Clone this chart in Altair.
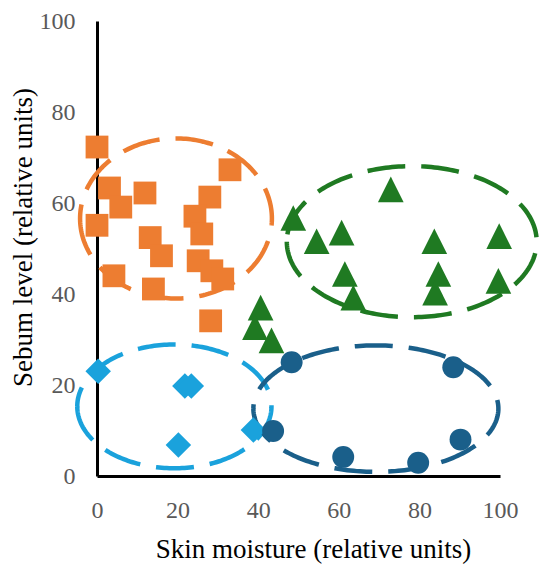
import altair as alt
import numpy as np
import pandas as pd

# ---- data ----
orange_x = [0, 3.1, 11.9, 5.9, 0, 33, 28, 24.3, 26, 13.2, 16, 25.1, 28.5, 31.2, 4.2, 14, 28.2]
orange_y = [72.3, 63.3, 62.2, 59.1, 55.1, 67.3, 61.3, 57.1, 53.2, 52.4, 48.4, 47.3, 45.1, 43.3, 44, 41.1, 34.1]

green_x = [72.9, 48.7, 54.5, 60.7, 83.7, 99.8, 61.5, 84.7, 99.6, 63.6, 83.9, 40.6, 39.2, 43.3]
green_y = [63, 56.7, 51.6, 53.5, 51.6, 52.7, 44.4, 44.4, 42.9, 39.2, 40.3, 37, 32.7, 29.8]

lightblue_x = [0.3, 21.8, 23.4, 20.2, 38.8]
lightblue_y = [23, 19.8, 19.8, 6.8, 10.1]

darkblue_x = [48.3, 88.4, 43.7, 90.2, 61.1, 79.7]
darkblue_y = [25, 23.9, 9.9, 8, 4.2, 2.9]

# cluster ellipses: centre and semi-axes (data units)
ell_names = ["lightblue", "orange", "green", "darkblue"]
ell_cx = [19.2, 19.6, 78.1, 69.2]
ell_cy = [15.3, 56.6, 51.5, 14.8]
ell_rx = [24.1, 23.8, 31.0, 30.4]
ell_ry = [13.6, 17.6, 16.6, 13.9]

tick_values = [0, 20, 40, 60, 80, 100]

colors = {
    "orange": "#ED7D31",
    "green": "#1F7A22",
    "lightblue": "#1AA2DC",
    "darkblue": "#1A5F8A",
}

FONT = "'Times New Roman', 'Liberation Serif', 'DejaVu Serif', serif"

x_scale = alt.Scale(domain=[0, 100], nice=False, zero=False)
y_scale = alt.Scale(domain=[0, 100], nice=False, zero=False)

x_axis = alt.Axis(
    values=tick_values, grid=False, ticks=False, tickSize=0, labelFlush=False,
    domainColor="black", domainWidth=3,
    labelFont=FONT, labelFontSize=24, labelColor="#595959", labelPadding=22,
    title="Skin moisture (relative units)", titleFont=FONT, titleFontSize=27,
    titleFontWeight="normal", titleColor="black",
    titleX=216, titleY=81, titleBaseline="alphabetic",
)
y_axis = alt.Axis(
    values=tick_values, grid=False, ticks=False, tickSize=0, labelFlush=False,
    domainColor="black", domainWidth=3,
    labelFont=FONT, labelFontSize=24, labelColor="#595959", labelPadding=22,
    title="Sebum level (relative units)", titleFont=FONT, titleFontSize=27,
    titleFontWeight="normal", titleColor="black",
    titleX=-66, titleY=216, titleBaseline="alphabetic",
)

# ellipse outlines
rows = []
theta = np.linspace(np.pi, 3 * np.pi, 241)
for name, cx, cy, rx, ry in zip(ell_names, ell_cx, ell_cy, ell_rx, ell_ry):
    for i, t in enumerate(theta):
        rows.append({"group": name, "x": cx + rx * np.cos(t), "y": cy + ry * np.sin(t), "o": i})
ell_df = pd.DataFrame(rows)

layers = []
for name in ell_names:
    d = ell_df[ell_df.group == name]
    layers.append(
        alt.Chart(d).mark_line(
            color=colors[name], strokeWidth=4.5, strokeDash=[38, 16], strokeCap="butt"
        ).encode(
            x=alt.X("x:Q", scale=x_scale, axis=x_axis),
            y=alt.Y("y:Q", scale=y_scale, axis=y_axis),
            order="o:Q",
        )
    )

point_sets = [
    ("orange", orange_x, orange_y, "square", 520),
    ("green", green_x, green_y, "M0,-1L-1,1L1,1Z", 660),
    ("lightblue", lightblue_x, lightblue_y, "diamond", 650),
    ("darkblue", darkblue_x, darkblue_y, "circle", 480),
]
for name, xs, ys, shape, size in point_sets:
    d = pd.DataFrame({"x": xs, "y": ys})
    layers.append(
        alt.Chart(d).mark_point(
            shape=shape, size=size, filled=True, opacity=1, color=colors[name], strokeWidth=0
        ).encode(
            x=alt.X("x:Q", scale=x_scale, axis=x_axis),
            y=alt.Y("y:Q", scale=y_scale, axis=y_axis),
        )
    )

chart = alt.layer(*layers).properties(
    width=403, height=455,
    autosize=alt.AutoSizeParams(type="none"),
    padding={"left": 89, "top": 13, "right": 40, "bottom": 94},
).configure_view(strokeWidth=0)

chart.save("out.html", embed_options={"renderer": "svg", "actions": False})
